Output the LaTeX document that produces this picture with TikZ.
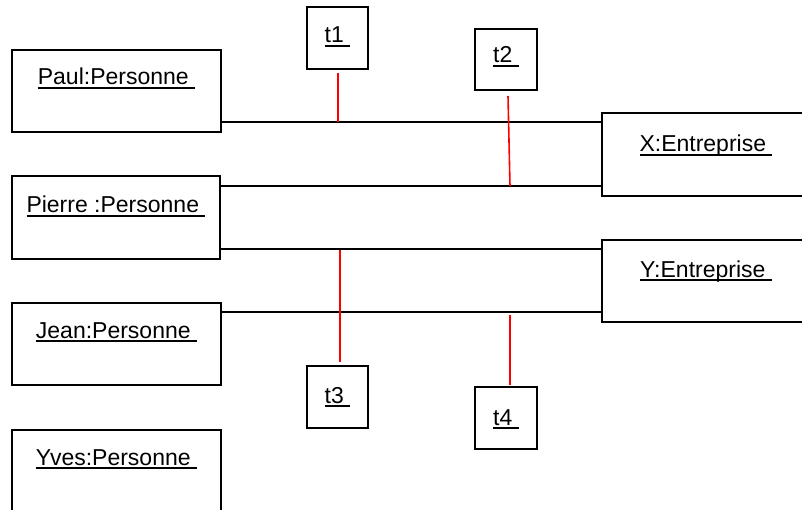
\documentclass[tikz,border=0pt]{standalone}
\usepackage{fontspec}
\setmainfont{Liberation Sans}
\newcommand\ulx[1]{\setbox0\hbox{#1}\rlap{\rule[-3.8pt]{\wd0}{1.5pt}}\box0}
\begin{document}
\begin{tikzpicture}[x=1pt,y=-1pt,
  box/.style={draw,line width=1.6pt,inner sep=0pt,outer sep=0pt},
  lbl/.style={anchor=base,inner sep=0pt,font=\fontsize{23}{27}\selectfont},
  link/.style={line width=1.6pt},
  tie/.style={line width=1.6pt,red}]
\useasboundingbox (0,0) rectangle (802,510);
% object boxes
\node[box,minimum width=209pt,minimum height=82pt] (paul) at (116.5,91) {};
\node[box,minimum width=208pt,minimum height=83pt] (pierre) at (116,217.5) {};
\node[box,minimum width=209pt,minimum height=82pt] (jean) at (116.5,344) {};
\node[box,minimum width=209pt,minimum height=82pt] (yves) at (116.5,471) {};
\node[box,minimum width=202pt,minimum height=83pt] (X) at (703,154.5) {};
\node[box,minimum width=202pt,minimum height=82pt] (Y) at (703,281) {};
\node[box,minimum width=61pt,minimum height=62pt] (t1) at (337.5,38) {};
\node[box,minimum width=62pt,minimum height=61pt] (t2) at (506,59.5) {};
\node[box,minimum width=61pt,minimum height=62pt] (t3) at (337.5,397) {};
\node[box,minimum width=62pt,minimum height=62pt] (t4) at (506,418) {};
% labels
\node[lbl] (lpaul) at (116.5,85) {\ulx{Paul:Personne\ }};
\node[lbl] (lpierre) at (116,213) {\ulx{Pierre :Personne\ }};
\node[lbl] (ljean) at (116.5,338) {\ulx{Jean:Personne\ }};
\node[lbl] (lyves) at (116.5,465) {\ulx{Yves:Personne\ }};
\node[lbl] (lX) at (706,152) {\ulx{X:Entreprise\ }};
\node[lbl] (lY) at (706,277) {\ulx{Y:Entreprise\ }};
\node[lbl] (lt1) at (337.5,43) {\ulx{t1\ }};
\node[lbl] (lt2) at (506,63) {\ulx{t2\ }};
\node[lbl] (lt3) at (337.5,403) {\ulx{t3\ }};
\node[lbl] (lt4) at (506,425) {\ulx{t4\ }};
% links
\draw[link] ([yshift=10pt]paul.south east) -- ([yshift=-9pt]X.north west);
\draw[link] ([yshift=-10pt]pierre.north east) -- ([yshift=10pt]X.south west);
\draw[link] ([yshift=10pt]pierre.south east) -- ([yshift=-9pt]Y.north west);
\draw[link] ([yshift=-9pt]jean.north east) -- ([yshift=10pt]Y.south west);
% attachment points on links
\coordinate (a1) at (338,122);
\coordinate (a2) at (510,186);
\coordinate (a3) at (340,250);
\coordinate (a4) at (510,315);
% red ties
\draw[tie] ([xshift=0.5pt,yshift=-4pt]t1.south) -- (a1);
\draw[tie] ([xshift=2pt,yshift=-6pt]t2.south) -- (a2);
\draw[tie] (a3) -- ([xshift=2.5pt,yshift=4pt]t3.north);
\draw[tie] (a4) -- ([xshift=4pt,yshift=2pt]t4.north);
\end{tikzpicture}
\end{document}
